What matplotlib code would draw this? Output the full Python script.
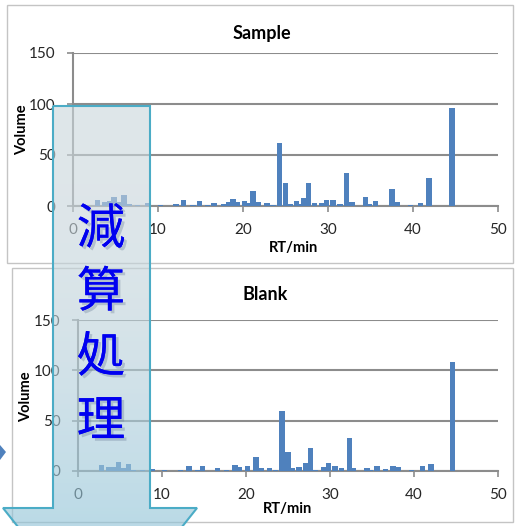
import numpy as np
import matplotlib
matplotlib.use('Agg')
import matplotlib.pyplot as plt
from matplotlib.patches import Polygon, Rectangle
import matplotlib.patheffects as pe

# -----------------------------
# Data
# -----------------------------
sample_rt = [2.9, 3.7, 4.3, 4.8, 5.4, 6.0, 6.6, 7.6, 8.8, 10.3, 12.1, 13.0, 14.1, 14.9,
             15.8, 16.6, 17.7, 18.3, 18.8, 19.3, 20.2, 20.7, 21.2, 21.8, 22.8, 23.5,
             24.3, 25.0, 25.6, 26.3, 26.7, 27.1, 27.7, 28.4, 29.3, 29.8, 30.6, 31.4,
             32.2, 32.8, 34.4, 34.9, 35.6, 37.5, 38.1, 39.7, 40.9, 41.9, 44.6]
sample_vol = [6, 4, 5, 9, 4, 11, 2, 1, 3, 1, 1.5, 6, 1, 5,
              1, 3, 1.5, 4, 7, 4, 5, 3, 15, 4, 3, 1,
              62, 23, 2, 5, 2, 8, 23, 3, 3, 6, 6, 2,
              32, 4, 9, 2, 5, 17, 4, 1, 3, 27, 96]

blank_rt = [2.8, 3.6, 4.2, 4.8, 5.4, 6.0, 6.6, 7.7, 8.8, 10.3, 12.2, 13.2, 14.3, 14.8,
            16.6, 17.7, 18.7, 19.2, 20.2, 21.2, 21.8, 22.8, 23.5, 24.3, 25.0, 25.5,
            26.3, 27.1, 27.7, 28.3, 29.3, 29.8, 30.6, 31.4, 32.3, 32.8, 34.4, 34.8,
            35.6, 36.6, 37.5, 38.1, 39.7, 41.0, 42.0, 44.6]
blank_vol = [6, 4, 4, 9, 3, 7, 1, 1, 1.5, 1, 1, 5, 1, 5,
             3, 1, 6, 4, 5, 14, 3, 3, 1, 60, 19, 3,
             4, 8, 23, 1, 4, 8, 5, 3, 33, 3, 3, 1,
             5, 1.5, 5, 4, 1, 5, 7, 108]

x_ticks = [0, 10, 20, 30, 40, 50]
y_ticks = [0, 50, 100, 150]
panel_titles = ['Sample', 'Blank']
arrow_text = ['減', '算', '処', '理']

W, H = 529, 526
plt.rcParams['font.family'] = ['Lato', 'DejaVu Sans']

fig = plt.figure(figsize=(W / 100, H / 100), dpi=100)
fig.patch.set_facecolor('white')


def px_box(l, t, r, b):
    return [l / W, 1 - b / H, (r - l) / W, (b - t) / H]


# background axes for the two chart frames
bg = fig.add_axes([0, 0, 1, 1], zorder=0)
bg.set_xlim(0, W)
bg.set_ylim(H, 0)
bg.axis('off')
bg.add_patch(Rectangle((7, 5), 506, 258, fill=False, ec='#c4c4c4', lw=1))
bg.add_patch(Rectangle((12, 268), 501, 254, fill=False, ec='#c4c4c4', lw=1))

grid_c = '#8c8c8c'
bar_c = '#4f81bd'


def draw_chart(box, rt, vol, title, title_xy, xlab_xy, ylab_xy):
    ax = fig.add_axes(px_box(*box), zorder=1)
    ax.bar(rt, vol, width=0.65, color=bar_c, zorder=3)
    ax.set_xlim(0, 50)
    ax.set_ylim(0, 150)
    ax.set_xticks(x_ticks)
    ax.set_yticks(y_ticks)
    ax.yaxis.grid(True, color=grid_c, lw=1.5, zorder=1)
    ax.set_axisbelow(True)
    for s in ['top', 'right']:
        ax.spines[s].set_visible(False)
    for s in ['left', 'bottom']:
        ax.spines[s].set_color(grid_c)
        ax.spines[s].set_linewidth(1.5)
    ax.tick_params(axis='both', direction='out', length=4.5, width=1.2,
                   color=grid_c, labelsize=11, labelcolor='#262626')
    ax.tick_params(axis='x', pad=8)
    ax.tick_params(axis='y', pad=8)
    fig.text(title_xy[0] / W, 1 - title_xy[1] / H, title, ha='center', va='center',
             fontsize=13, fontweight='bold', color='black')
    fig.text(xlab_xy[0] / W, 1 - xlab_xy[1] / H, 'RT/min', ha='center', va='center',
             fontsize=10.5, fontweight='bold', color='black')
    fig.text(ylab_xy[0] / W, 1 - ylab_xy[1] / H, 'Volume', ha='center', va='center',
             fontsize=10.5, fontweight='bold', rotation=90, color='black')
    return ax


draw_chart((73, 53, 498, 206), sample_rt, sample_vol, panel_titles[0],
           (262, 33), (293, 248), (22, 130))
draw_chart((78, 320, 498, 471), blank_rt, blank_vol, panel_titles[1],
           (265, 295), (287, 509), (26, 397))

# overlay: translucent down arrow with vertical text
ov = fig.add_axes([0, 0, 1, 1], zorder=5)
ov.set_xlim(0, W)
ov.set_ylim(H, 0)
ov.axis('off')
ov.patch.set_alpha(0)

verts = [(53, 106), (150, 106), (150, 508), (197, 508), (100, 630), (3, 508), (53, 508)]
arrow = Polygon(verts, closed=True, fc='none', ec='#4bacc6', lw=1.5, zorder=3)
ov.add_patch(arrow)

top_c = np.array([0.80, 0.845, 0.865])
bot_c = np.array([0.42, 0.72, 0.84])
t = np.linspace(0, 1, 256) ** 2.2
grad = np.zeros((256, 1, 4))
grad[:, 0, :3] = top_c[None, :] * (1 - t[:, None]) + bot_c[None, :] * t[:, None]
grad[:, 0, 3] = 0.62
im = ov.imshow(grad, extent=[3, 197, 630, 106], aspect='auto', zorder=2,
               interpolation='bilinear')
im.set_clip_path(arrow)
ov.set_xlim(0, W)
ov.set_ylim(H, 0)

# small pointer at the left edge
ov.add_patch(Polygon([(0, 445), (6, 452), (0, 460)], closed=True, fc='#4f81bd', ec='none'))

char_y = [230, 293, 358, 422]
for ch, yy in zip(arrow_text, char_y):
    ov.text(101, yy, ch, ha='center', va='center', fontsize=35, color='#0000f0',
            family=['Noto Sans CJK JP', 'DejaVu Sans'], zorder=4,
            path_effects=[pe.withSimplePatchShadow(offset=(2, -2), shadow_rgbFace='#6a7f99',
                                                   alpha=0.35), pe.Normal()])

fig.savefig('out.png', dpi=100, facecolor='white')
